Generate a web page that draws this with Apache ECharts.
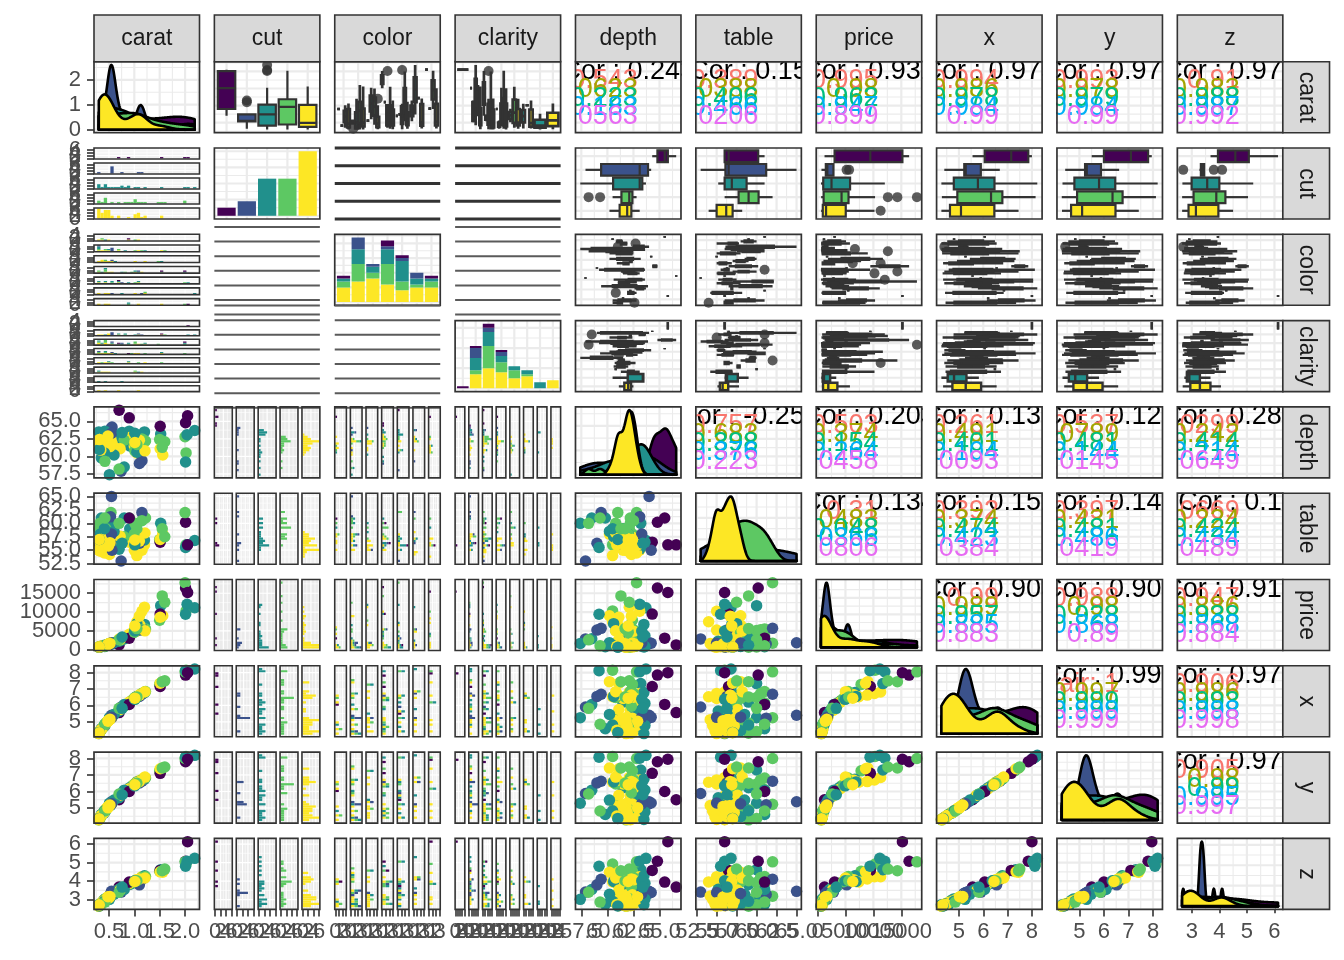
<!DOCTYPE html>
<html lang="en">
<head>
<meta charset="UTF-8">
<title>diamonds pairs</title>
<script src="https://cdn.jsdelivr.net/npm/echarts@6/dist/echarts.min.js"></script>
<style>
  html, body { margin: 0; background: #fff; }
  #chart { width: 1344px; height: 960px; }
</style>
</head>
<body>
<div id="chart"></div>
<script>
// levels and variable names
var cutLevels = ['Fair', 'Good', 'Very Good', 'Premium', 'Ideal'];
var colorLevels = ['D', 'E', 'F', 'G', 'H', 'I', 'J'];
var clarityLevels = ['I1', 'SI2', 'SI1', 'VS2', 'VS1', 'VVS2', 'VVS1', 'IF'];
var varNames = ['carat', 'cut', 'color', 'clarity', 'depth', 'table', 'price', 'x', 'y', 'z'];

// the sample, one array per column (rows grouped Fair, Good, Very Good, Premium, Ideal)
var carat = [0.70, 0.90, 1.51, 2.01, 2.05,
  0.32, 0.53, 0.54, 0.55, 0.56, 0.55, 0.74, 1.10, 1.15,
  0.30, 0.31, 0.33, 0.35, 0.40, 0.41, 0.42, 0.51, 0.53, 0.60, 0.70, 0.74, 0.76, 0.80, 0.90, 0.91, 1.01, 1.05, 1.20, 1.52, 2.01, 2.04, 2.19,
  0.30, 0.32, 0.35, 0.40, 0.42, 0.44, 0.45, 0.54, 0.70, 0.80, 0.90, 0.96, 1.00, 1.01, 1.02, 1.05, 1.15, 1.22, 1.50, 1.55, 1.60, 2.00, 2.02,
  0.30, 0.30, 0.31, 0.31, 0.32, 0.33, 0.33, 0.34, 0.35, 0.36, 0.38, 0.40, 0.41, 0.42, 0.43, 0.45, 0.46, 0.47, 0.48, 0.49,
  0.50, 0.51, 0.52, 0.54, 0.56, 0.70, 0.72, 0.90, 1.00, 1.01, 1.04, 1.05, 1.06, 1.10, 1.11, 1.15, 1.20, 1.21, 1.51, 1.56];
var cut = ['Fair', 'Fair', 'Fair', 'Fair', 'Fair',
  'Good', 'Good', 'Good', 'Good', 'Good', 'Good', 'Good', 'Good', 'Good',
  'Very Good', 'Very Good', 'Very Good', 'Very Good', 'Very Good', 'Very Good', 'Very Good', 'Very Good', 'Very Good', 'Very Good', 'Very Good', 'Very Good',
  'Very Good', 'Very Good', 'Very Good', 'Very Good', 'Very Good', 'Very Good', 'Very Good', 'Very Good', 'Very Good', 'Very Good', 'Very Good',
  'Premium', 'Premium', 'Premium', 'Premium', 'Premium', 'Premium', 'Premium', 'Premium', 'Premium', 'Premium', 'Premium', 'Premium',
  'Premium', 'Premium', 'Premium', 'Premium', 'Premium', 'Premium', 'Premium', 'Premium', 'Premium', 'Premium', 'Premium',
  'Ideal', 'Ideal', 'Ideal', 'Ideal', 'Ideal', 'Ideal', 'Ideal', 'Ideal', 'Ideal', 'Ideal', 'Ideal', 'Ideal', 'Ideal', 'Ideal', 'Ideal', 'Ideal', 'Ideal', 'Ideal', 'Ideal', 'Ideal',
  'Ideal', 'Ideal', 'Ideal', 'Ideal', 'Ideal', 'Ideal', 'Ideal', 'Ideal', 'Ideal', 'Ideal', 'Ideal', 'Ideal', 'Ideal', 'Ideal', 'Ideal', 'Ideal', 'Ideal', 'Ideal', 'Ideal', 'Ideal'];
var color = ['H', 'D', 'G', 'G', 'J',
  'E', 'E', 'I', 'E', 'F', 'E', 'H', 'G', 'I',
  'E', 'H', 'E', 'G', 'H', 'D', 'G', 'E', 'H', 'F', 'H', 'I', 'G', 'E', 'H', 'J', 'G', 'H', 'E', 'F', 'G', 'H', 'I',
  'E', 'G', 'D', 'G', 'E', 'F', 'G', 'H', 'E', 'G', 'J', 'G', 'E', 'D', 'H', 'G', 'E', 'I', 'F', 'G', 'E', 'H', 'J',
  'D', 'E', 'F', 'G', 'H', 'I', 'J', 'F', 'E', 'D', 'F', 'G', 'I', 'J', 'E', 'F', 'H', 'D', 'G', 'F',
  'E', 'I', 'J', 'G', 'F', 'H', 'E', 'D', 'G', 'F', 'I', 'J', 'D', 'E', 'H', 'G', 'F', 'I', 'J', 'E'];
var clarity = ['SI1', 'VS2', 'SI2', 'SI1', 'I1',
  'VS2', 'SI2', 'SI1', 'SI2', 'VS2', 'SI2', 'SI1', 'SI2', 'SI2',
  'VVS1', 'SI1', 'VVS2', 'SI1', 'VS2', 'VVS1', 'SI2', 'VS1', 'SI1', 'VS2', 'SI2', 'SI1', 'VVS1', 'SI2', 'SI1', 'VS1', 'SI2', 'VVS2', 'SI1', 'VS2', 'SI1', 'SI2', 'SI2',
  'SI1', 'VS2', 'VS1', 'SI1', 'VS2', 'SI1', 'SI1', 'VS1', 'SI1', 'SI2', 'SI1', 'VS2', 'SI1', 'VVS2', 'SI1', 'VS1', 'SI1', 'VS2', 'SI1', 'VS1', 'SI2', 'SI1', 'VS2',
  'SI1', 'VS2', 'IF', 'SI2', 'VS1', 'SI1', 'VVS2', 'SI1', 'VS2', 'VVS2', 'SI2', 'VS2', 'SI1', 'VS1', 'IF', 'SI1', 'VVS2', 'SI2', 'VS2', 'SI1',
  'VS1', 'VVS2', 'SI2', 'SI1', 'VS2', 'IF', 'SI2', 'VS1', 'SI1', 'VVS2', 'VS2', 'SI1', 'IF', 'VS2', 'SI2', 'VVS2', 'VS1', 'SI1', 'VS2', 'SI2'];
var depth = [66.6, 65.5, 64.3, 64.8, 65.8,
  61.0, 63.1, 63.9, 63.3, 64.2, 64.0, 57.9, 59.0, 59.4,
  63.5, 61.0, 62.0, 59.8, 63.3, 60.5, 63.6, 57.4, 63.2, 60.2, 63.1, 62.6, 63.4, 58.5, 63.6, 61.5, 63.3, 60.6, 63.5, 63.2, 59.2, 63.1, 63.7,
  61.8, 62.2, 61.5, 62.7, 59.3, 62.1, 62.4, 61.0, 58.2, 62.3, 62.8, 61.4, 62.0, 60.8, 62.6, 61.7, 62.5, 62.2, 62.4, 61.3, 62.1, 62.8, 60.5,
  61.8, 62.2, 61.1, 62.4, 61.6, 62.0, 62.6, 60.9, 62.3, 61.3, 62.1, 61.9, 62.8, 61.0, 62.5, 61.7, 62.0, 61.2, 62.9, 61.8,
  60.7, 62.3, 61.4, 62.4, 61.9, 62.2, 61.1, 62.7, 61.5, 62.0, 62.5, 60.5, 61.8, 62.3, 61.0, 63.1, 62.1, 60.8, 61.1, 60.2];
var table = [56.0, 61.0, 56.5, 60.2, 56.0,
  56.1, 61.2, 56.5, 58.0, 55.0, 65.0, 53.0, 56.3, 62.0,
  56.0, 57.0, 58.0, 61.0, 55.8, 59.0, 56.5, 60.0, 56.0, 58.5, 55.2, 57.0, 56.3, 61.0, 56.7, 59.0, 56.0, 57.5, 56.9, 60.0, 55.5, 56.0, 56.8,
  59.0, 60.0, 58.0, 57.0, 61.0, 59.0, 58.0, 62.0, 60.0, 57.5, 61.0, 59.0, 58.0, 60.0, 57.0, 59.0, 60.5, 61.0, 57.0, 59.0, 57.5, 62.0, 56.0,
  55.0, 56.0, 55.5, 57.0, 56.5, 54.8, 57.0, 56.0, 55.0, 56.6, 55.0, 57.2, 54.5, 56.0, 55.1, 56.8, 55.0, 57.5, 56.0, 55.8,
  57.0, 54.2, 56.4, 57.4, 55.0, 56.0, 57.6, 56.5, 55.0, 56.9, 57.0, 54.0, 57.8, 56.7, 58.0, 55.0, 56.0, 58.2, 57.0, 58.0];
var price = [1250, 3050, 9450, 16400, 15200,
  700, 1480, 1420, 1750, 1700, 1820, 2850, 5200, 5650,
  680, 620, 850, 760, 880, 1150, 820, 1650, 1450, 1850, 2250, 2500, 3350, 2900, 3700, 3900, 4950, 6900, 6700, 11700, 9400, 12050, 11150,
  640, 720, 890, 900, 1000, 1050, 1120, 1700, 2600, 2850, 3650, 4300, 4650, 5100, 4850, 5600, 5300, 5500, 7800, 14300, 12600, 17800, 10300,
  650, 720, 780, 700, 750, 700, 820, 900, 850, 880, 950, 1000, 1050, 1100, 1050, 1250, 1300, 1350, 1400, 1500,
  1550, 1600, 1650, 1750, 1850, 2800, 2650, 4100, 5200, 6300, 4900, 7400, 5800, 8900, 6500, 10200, 11300, 5000, 8600, 9000];
var dimX = [5.56, 6.06, 7.15, 7.85, 8.00,
  4.40, 5.22, 5.20, 5.28, 5.27, 5.40, 5.90, 6.55, 6.68,
  4.28, 4.35, 4.45, 4.58, 4.70, 4.80, 4.78, 5.25, 5.18, 5.45, 5.66, 5.78, 5.82, 6.05, 6.12, 6.20, 6.37, 6.55, 6.78, 7.33, 8.12, 8.05, 8.22,
  4.30, 4.40, 4.52, 4.70, 4.85, 4.92, 4.95, 5.25, 5.82, 5.95, 6.15, 6.32, 6.42, 6.48, 6.40, 6.52, 6.72, 6.85, 7.28, 7.45, 7.50, 8.05, 8.15,
  4.28, 4.31, 4.35, 4.33, 4.40, 4.43, 4.45, 4.48, 4.53, 4.58, 4.65, 4.74, 4.78, 4.82, 4.86, 4.93, 4.97, 5.00, 5.03, 5.07,
  5.10, 5.13, 5.16, 5.22, 5.28, 5.70, 5.75, 6.20, 6.42, 6.44, 6.50, 6.53, 6.55, 6.63, 6.65, 6.73, 6.82, 6.84, 7.35, 7.45];
var dimY = [5.50, 6.00, 7.10, 7.80, 7.95,
  4.42, 5.19, 5.23, 5.25, 5.30, 5.38, 5.88, 6.52, 6.62,
  4.31, 4.37, 4.47, 4.61, 4.68, 4.83, 4.76, 5.29, 5.16, 5.48, 5.62, 5.81, 5.80, 6.08, 6.09, 6.23, 6.34, 6.58, 6.74, 7.30, 8.08, 8.02, 8.19,
  4.28, 4.37, 4.55, 4.73, 4.82, 4.89, 4.92, 5.22, 5.85, 5.92, 6.12, 6.35, 6.38, 6.45, 6.43, 6.50, 6.70, 6.82, 7.25, 7.42, 7.48, 8.00, 8.12,
  4.31, 4.29, 4.38, 4.35, 4.42, 4.46, 4.43, 4.51, 4.55, 4.60, 4.68, 4.72, 4.80, 4.85, 4.88, 4.96, 4.99, 5.03, 5.01, 5.09,
  5.13, 5.15, 5.18, 5.24, 5.30, 5.73, 5.77, 6.17, 6.45, 6.41, 6.53, 6.56, 6.58, 6.60, 6.68, 6.70, 6.85, 6.87, 7.38, 7.42];
var dimZ = [3.68, 3.95, 4.58, 5.07, 6.13,
  2.69, 3.28, 3.33, 3.33, 3.39, 3.45, 3.41, 3.80, 4.10,
  2.73, 2.66, 2.77, 2.75, 2.97, 2.91, 3.03, 3.02, 3.27, 3.29, 3.56, 3.63, 3.68, 3.55, 3.88, 3.82, 4.02, 3.98, 4.29, 4.62, 4.80, 5.07, 5.23,
  2.65, 2.73, 2.79, 2.96, 2.87, 3.05, 3.08, 3.19, 3.40, 3.70, 3.85, 3.89, 3.97, 3.93, 4.02, 4.02, 4.19, 4.25, 4.53, 4.56, 4.65, 5.04, 4.92,
  2.65, 2.67, 2.67, 2.71, 2.72, 2.76, 2.78, 2.74, 2.83, 2.81, 2.90, 2.93, 3.01, 2.95, 3.04, 3.05, 3.09, 3.07, 3.16, 3.14,
  3.10, 3.20, 3.17, 3.26, 3.27, 3.55, 3.52, 3.88, 3.96, 3.98, 4.07, 3.96, 4.06, 4.12, 4.07, 4.24, 4.24, 4.17, 4.50, 4.48];

// tick breaks of the continuous variables
var caratBreaks = [0.5, 1, 1.5, 2];
var depthBreaks = [57.5, 60, 62.5, 65];
var tableBreaks = [52.5, 55, 57.5, 60, 62.5, 65];
var priceBreaks = [0, 5000, 10000, 15000];
var xBreaks = [5, 6, 7, 8];
var yBreaks = [5, 6, 7, 8];
var zBreaks = [3, 4, 5, 6];

// correlation labels as printed, pair order:
// carat-depth, carat-table, carat-price, carat-x, carat-y, carat-z, depth-table, depth-price, depth-x, depth-y, depth-z,
// table-price, table-x, table-y, table-z, price-x, price-y, price-z, x-y, x-z, y-z
var corrAll = ['0.243', '0.15', '0.931', '0.975', '0.974', '0.971', '-0.257', '0.203', '0.131', '0.124', '0.283',
  '0.134', '0.152', '0.146', '0.1', '0.903', '0.905', '0.914', '0.998', '0.974', '0.973'];
var corrFair = ['0.543', '0.389', '0.995', '0.994', '0.993', '0.91', '-0.757', '-0.503', '-0.261', '-0.537', '0.0299',
  '0.31', '0.392', '0.397', '0.0669', '0.99', '0.988', '0.947', '1', '0.906', '0.905'];
var corrGood = ['0.0623', '0.0388', '0.98', '0.986', '0.978', '0.983', '-0.683', '0.374', '0.491', '0.0789', '0.242',
  '-0.0483', '-0.374', '-0.431', '-0.224', '0.989', '0.98', '0.886', '0.997', '0.986', '0.98'];
var corrVeryGood = ['0.223', '0.406', '0.962', '0.978', '0.979', '0.988', '-0.398', '0.154', '0.401', '0.481', '0.414',
  '0.048', '0.474', '0.481', '0.424', '0.957', '0.928', '0.938', '0.999', '0.993', '0.99'];
var corrPremium = ['0.183', '0.466', '0.947', '0.984', '0.984', '0.987', '-0.376', '0.264', '0.104', '0.144', '0.214',
  '0.0366', '0.423', '0.486', '0.434', '0.885', '0.868', '0.868', '0.999', '0.998', '0.995'];
var corrIdeal = ['0.0563', '0.0206', '0.899', '0.99', '0.99', '0.992', '-0.223', '0.0458', '-0.0093', '0.0145', '0.0649',
  '0.0806', '0.0384', '0.0419', '0.0489', '0.883', '0.89', '0.884', '0.999', '0.998', '0.997'];

var cutFill = ['#440154', '#3B528B', '#21908C', '#5DC863', '#FDE725'];
var cutText = ['#F8766D', '#A3A500', '#00BF7D', '#00B0F6', '#E76BF3'];
var FONT = '"Liberation Sans", Arial, sans-serif';

var N = carat.length;
var cutIdx = cut.map(function (c) { return cutLevels.indexOf(c); });
var contVals = { carat: carat, depth: depth, table: table, price: price, x: dimX, y: dimY, z: dimZ };
var contBreaks = { carat: caratBreaks, depth: depthBreaks, table: tableBreaks, price: priceBreaks, x: xBreaks, y: yBreaks, z: zBreaks };
var contDec = { carat: 1, depth: 1, table: 1, price: 0, x: 0, y: 0, z: 0 };
var levels = { cut: cutLevels, color: colorLevels, clarity: clarityLevels };
var discIdx = {
  cut: cutIdx,
  color: color.map(function (c) { return colorLevels.indexOf(c); }),
  clarity: clarity.map(function (c) { return clarityLevels.indexOf(c); })
};
function isDisc(v) { return !!levels[v]; }
// draw order of the points (interleaves the cut groups)
var order = [];
for (var k0 = 0; k0 < N; k0++) order.push((k0 * 37) % N);

// panel layout
var L0 = 94, T0 = 61.7, DX = 120.37, DY = 86.3, PW = 105.5, PH = 71;
function panelRect(i, j) { return { x: L0 + j * DX, y: T0 + i * DY, w: PW, h: PH }; }

var option = { animation: false, backgroundColor: '#ffffff', grid: [], xAxis: [], yAxis: [], series: [], graphic: { elements: [] } };
var gfx = option.graphic.elements;

function quantile(s, p) {
  var h = (s.length - 1) * p, lo = Math.floor(h);
  var hi = Math.min(lo + 1, s.length - 1);
  return s[lo] + (h - lo) * (s[hi] - s[lo]);
}
function nrd0(v) {
  var s = v.slice().sort(function (a, b) { return a - b; }), n = s.length;
  var mean = s.reduce(function (a, b) { return a + b; }, 0) / n;
  var sd = Math.sqrt(s.reduce(function (a, b) { return a + (b - mean) * (b - mean); }, 0) / (n - 1));
  var lo = Math.min(sd, (quantile(s, 0.75) - quantile(s, 0.25)) / 1.34);
  if (!(lo > 0)) lo = sd || Math.abs(s[0]) || 1;
  return 0.9 * lo * Math.pow(n, -0.2);
}
function fmtDec(d) { return function (v) { return Number(v).toFixed(d); }; }
function fmtNum(v) { return String(+Number(v).toPrecision(6)); }

function contInfo(name) {
  var vals = contVals[name];
  var lo = Math.min.apply(null, vals), hi = Math.max.apply(null, vals), r = hi - lo;
  var min = lo - 0.05 * r, max = hi + 0.05 * r;
  var br = contBreaks[name], step = br[1] - br[0];
  var majors = br.filter(function (b) { return b >= min && b <= max; });
  var minors = [];
  for (var m = br[0] - step / 2; m <= br[br.length - 1] + step / 2 + 1e-9; m += step) {
    if (m >= min && m <= max) minors.push(m);
  }
  return { vals: vals, lo: lo, hi: hi, min: min, max: max, majors: majors, minors: minors, fmt: fmtDec(contDec[name]) };
}
function countInfo(M) {
  var min = -0.05 * M, max = 1.05 * M;
  var p = Math.pow(10, Math.floor(Math.log10(M)) - 1), step = p;
  var mult = [1, 2, 5, 10, 20, 50, 100];
  for (var q = 0; q < mult.length; q++) {
    step = mult[q] * p;
    if (Math.floor(M / step + 1e-9) + 1 <= 5) break;
  }
  var majors = [], minors = [];
  for (var v = 0; v <= M + 1e-9; v += step) majors.push(+v.toPrecision(8));
  for (var w = -step / 2; w <= max; w += step) if (w >= min) minors.push(w);
  return { min: min, max: max, majors: majors, minors: minors, fmt: fmtNum };
}
function discInfo(n) {
  var majors = [];
  for (var k = 1; k <= n; k++) majors.push(k);
  return { min: 0.4, max: n + 0.6, majors: majors, minors: [], fmt: fmtNum };
}

function axisOf(info, pos, withTicks) {
  var ax = {
    type: 'value', min: info.min, max: info.max, position: pos, silent: true,
    axisLine: { show: false }, splitLine: { show: false }, minorSplitLine: { show: false },
    axisTick: { show: false }, axisLabel: { show: false }
  };
  if (withTicks) {
    var vals = info.majors.filter(function (v) { return v >= info.min && v <= info.max; });
    ax.axisTick = { show: true, customValues: vals, length: 7, lineStyle: { color: '#333333', width: 1.6 } };
  }
  return ax;
}

// tick labels placed through the axis scale, all of them kept even when they collide
function addTickLabels(gi, info, other, side) {
  var vals = info.majors.filter(function (v) { return v >= info.min && v <= info.max; });
  option.series.push({
    type: 'custom', xAxisIndex: gi, yAxisIndex: gi, silent: true, z: 5, clip: false,
    data: vals.map(function (v) { return side === 'left' ? [other.min, v] : [v, other.min]; }),
    renderItem: function (params, api) {
      var p = api.coord([api.value(0), api.value(1)]), cs = params.coordSys, v = vals[params.dataIndex];
      var left = side === 'left';
      return { type: 'text', x: left ? cs.x - 13 : p[0], y: left ? p[1] : cs.y + cs.height + 12,
        style: { text: info.fmt(v), fill: '#4d4d4d', fontSize: 22, fontFamily: FONT,
          align: left ? 'right' : 'center', verticalAlign: left ? 'middle' : 'top' } };
    }
  });
}

function addGridLines(gi, xi, yi, col, wMaj, wMin) {
  var data = [];
  xi.minors.forEach(function (v) { data.push([v, yi.min, 1]); });
  yi.minors.forEach(function (v) { data.push([xi.min, v, 3]); });
  xi.majors.forEach(function (v) { data.push([v, yi.min, 0]); });
  yi.majors.forEach(function (v) { data.push([xi.min, v, 2]); });
  option.series.push({
    type: 'custom', xAxisIndex: gi, yAxisIndex: gi, silent: true, z: 1, clip: true, data: data,
    renderItem: function (params, api) {
      var t = api.value(2), p = api.coord([api.value(0), api.value(1)]), cs = params.coordSys;
      var lw = (t === 0 || t === 2) ? wMaj : wMin;
      var shape = t < 2 ? { x1: p[0], y1: cs.y, x2: p[0], y2: cs.y + cs.height }
                        : { x1: cs.x, y1: p[1], x2: cs.x + cs.width, y2: p[1] };
      return { type: 'line', shape: shape, style: { stroke: col, lineWidth: lw } };
    }
  });
}

// one grid with its axes, background, grid lines and frame
function makePanel(R, xi, yi, o) {
  o = o || {};
  var gi = option.grid.length;
  option.grid.push({ left: R.x, top: R.y, width: R.w, height: R.h, containLabel: false, outerBoundsMode: 'none' });
  var xa = axisOf(xi, 'bottom', o.xLab), ya = axisOf(yi, 'left', o.yLab);
  xa.gridIndex = gi; ya.gridIndex = gi;
  option.xAxis.push(xa); option.yAxis.push(ya);
  if (o.bg) gfx.push({ type: 'rect', silent: true, z: 0, shape: { x: R.x, y: R.y, width: R.w, height: R.h }, style: { fill: o.bg } });
  addGridLines(gi, xi, yi, o.lineColor || '#ebebeb', o.wMaj || 2.2, o.wMin || 1.1);
  if (o.xLab) addTickLabels(gi, xi, yi, 'bottom');
  if (o.yLab) addTickLabels(gi, yi, xi, 'left');
  gfx.push({ type: 'rect', silent: true, z: 100, shape: { x: R.x, y: R.y, width: R.w, height: R.h },
    style: { fill: 'none', stroke: '#333333', lineWidth: o.bw || 1.7 } });
  return gi;
}

function addRects(gi, rects) {
  option.series.push({
    type: 'custom', xAxisIndex: gi, yAxisIndex: gi, silent: true, z: 3, clip: true,
    data: rects.map(function (r) { return [r[0], r[1], r[2], r[3]]; }),
    renderItem: function (params, api) {
      var a = api.coord([api.value(0), api.value(2)]), b = api.coord([api.value(1), api.value(3)]);
      return { type: 'rect', shape: { x: Math.min(a[0], b[0]), y: Math.min(a[1], b[1]), width: Math.abs(b[0] - a[0]), height: Math.abs(b[1] - a[1]) },
        style: { fill: rects[params.dataIndex][4] } };
    }
  });
}

function addPolys(gi, polys) {
  option.series.push({
    type: 'custom', xAxisIndex: gi, yAxisIndex: gi, silent: true, z: 3, clip: true,
    data: polys.map(function (p) { return p.pts[1]; }),
    renderItem: function (params, api) {
      var p = polys[params.dataIndex];
      return { type: 'polygon', shape: { points: p.pts.map(function (q) { return api.coord(q); }) },
        style: { fill: p.fill, stroke: '#000000', lineWidth: 2.6, lineJoin: 'round' } };
    }
  });
}

function addTexts(gi, items) {
  option.series.push({
    type: 'custom', xAxisIndex: gi, yAxisIndex: gi, silent: true, z: 3, clip: true,
    data: items.map(function (t) { return [t.x, t.y]; }),
    renderItem: function (params, api) {
      var t = items[params.dataIndex], p = api.coord([api.value(0), api.value(1)]);
      return { type: 'text', x: p[0], y: p[1],
        style: { text: t.text, fill: t.color, fontSize: 27, fontFamily: FONT, align: t.align, verticalAlign: 'middle' } };
    }
  });
}

function boxStats(vals) {
  var s = vals.slice().sort(function (a, b) { return a - b; });
  var q1 = quantile(s, 0.25), med = quantile(s, 0.5), q3 = quantile(s, 0.75), iqr = q3 - q1;
  var lf = q1 - 1.5 * iqr, uf = q3 + 1.5 * iqr;
  var inside = s.filter(function (v) { return v >= lf && v <= uf; });
  return { lo: inside[0], hi: inside[inside.length - 1], q1: q1, med: med, q3: q3,
    out: s.filter(function (v) { return v < lf || v > uf; }) };
}

// boxes per level of a factor, dodged by cut
function buildBoxes(codes, vals, n, horiz) {
  var boxes = [], outs = [];
  for (var k = 0; k < n; k++) {
    var base = horiz ? n - k : k + 1;
    var present = [];
    for (var c = 0; c < 5; c++) {
      var v = vals.filter(function (_, r) { return codes[r] === k && cutIdx[r] === c; });
      if (v.length) present.push({ c: c, v: v });
    }
    var m = present.length, slot = 0.9 / Math.max(m, 1);
    present.forEach(function (g, idx) {
      var pos = horiz ? base + 0.45 - slot * (idx + 0.5) : base - 0.45 + slot * (idx + 0.5);
      var hw = m === 1 ? 0.43 : slot * 0.42;
      var st = boxStats(g.v);
      boxes.push({ pos: pos, hw: hw, st: st, fill: cutFill[g.c] });
      st.out.forEach(function (o) { outs.push(horiz ? [o, pos] : [pos, o]); });
    });
  }
  return { boxes: boxes, outs: outs };
}

function addBoxes(gi, res, horiz, lw) {
  var boxes = res.boxes;
  option.series.push({
    type: 'custom', xAxisIndex: gi, yAxisIndex: gi, silent: true, z: 3, clip: true,
    data: boxes.map(function (b) { return horiz ? [b.st.med, b.pos] : [b.pos, b.st.med]; }),
    renderItem: function (params, api) {
      var b = boxes[params.dataIndex], st = b.st;
      function P(c, v) { return horiz ? api.coord([v, c]) : api.coord([c, v]); }
      var s = { stroke: '#333333', lineWidth: lw };
      var w1 = P(b.pos, st.lo), w2 = P(b.pos, st.q1), w3 = P(b.pos, st.q3), w4 = P(b.pos, st.hi);
      var a = P(b.pos - b.hw, st.q1), c = P(b.pos + b.hw, st.q3);
      var m1 = P(b.pos - b.hw, st.med), m2 = P(b.pos + b.hw, st.med);
      return { type: 'group', children: [
        { type: 'line', shape: { x1: w1[0], y1: w1[1], x2: w2[0], y2: w2[1] }, style: s },
        { type: 'line', shape: { x1: w3[0], y1: w3[1], x2: w4[0], y2: w4[1] }, style: s },
        { type: 'rect', shape: { x: Math.min(a[0], c[0]), y: Math.min(a[1], c[1]), width: Math.abs(c[0] - a[0]), height: Math.abs(c[1] - a[1]) },
          style: { fill: b.fill, stroke: '#333333', lineWidth: lw } },
        { type: 'line', shape: { x1: m1[0], y1: m1[1], x2: m2[0], y2: m2[1] }, style: s }
      ] };
    }
  });
  if (res.outs.length) {
    option.series.push({ type: 'scatter', xAxisIndex: gi, yAxisIndex: gi, silent: true, z: 4, clip: true,
      symbolSize: 10, itemStyle: { color: '#333333' }, data: res.outs });
  }
}

// ---------- panel kinds ----------
function diagDensity(i) {
  var ci = contInfo(varNames[i]), polys = [], dmax = 0;
  for (var c = 0; c < 5; c++) {
    var v = ci.vals.filter(function (_, r) { return cutIdx[r] === c; });
    var bw = nrd0(v), pts = [[ci.lo, 0]];
    for (var s = 0; s <= 200; s++) {
      var x = ci.lo + (ci.hi - ci.lo) * s / 200, d = 0;
      for (var q = 0; q < v.length; q++) { var u = (x - v[q]) / bw; d += Math.exp(-0.5 * u * u); }
      d /= v.length * bw * Math.sqrt(2 * Math.PI);
      pts.push([x, d]);
      if (d > dmax) dmax = d;
    }
    pts.push([ci.hi, 0]);
    polys.push({ pts: pts, fill: cutFill[c] });
  }
  var gi = makePanel(panelRect(i, i), ci, countInfo(dmax), { xLab: i === 9, yLab: i === 0 });
  addPolys(gi, polys);
}

function diagBars(i) {
  var name = varNames[i], n = levels[name].length, codes = discIdx[name];
  var cnt = levels[name].map(function () { return [0, 0, 0, 0, 0]; });
  codes.forEach(function (k, r) { cnt[k][cutIdx[r]]++; });
  var M = Math.max.apply(null, cnt.map(function (a) { return a.reduce(function (s, x) { return s + x; }, 0); }));
  var rects = [];
  cnt.forEach(function (a, k) {
    var acc = 0;
    for (var c = 4; c >= 0; c--) if (a[c]) { rects.push([k + 0.55, k + 1.45, acc, acc + a[c], cutFill[c]]); acc += a[c]; }
  });
  var gi = makePanel(panelRect(i, i), discInfo(n), countInfo(M), {});
  addRects(gi, rects);
}

function corrPanel(i, j, pIdx) {
  var xi = contInfo(varNames[j]), yi = contInfo(varNames[i]);
  var gi = makePanel(panelRect(i, j), xi, yi, {});
  var xr = xi.hi - xi.lo, yr = yi.hi - yi.lo;
  var groups = [corrFair, corrGood, corrVeryGood, corrPremium, corrIdeal];
  var items = [{ x: xi.lo + 0.5 * xr, y: yi.lo + 0.9 * yr, text: 'Cor : ' + corrAll[pIdx], color: '#000000', align: 'center' }];
  for (var c = 0; c < 5; c++) {
    items.push({ x: xi.lo + 0.6 * xr, y: yi.lo + (0.76 - 0.14 * c) * yr, text: cutLevels[c] + ': ' + groups[c][pIdx], color: cutText[c], align: 'right' });
  }
  addTexts(gi, items);
}

function scatterPanel(i, j) {
  var xi = contInfo(varNames[j]), yi = contInfo(varNames[i]);
  var gi = makePanel(panelRect(i, j), xi, yi, { xLab: i === 9, yLab: j === 0 });
  option.series.push({
    type: 'scatter', xAxisIndex: gi, yAxisIndex: gi, silent: true, z: 3, clip: true, symbolSize: 11.5,
    data: order.map(function (k) { return { value: [xi.vals[k], yi.vals[k]], itemStyle: { color: cutFill[cutIdx[k]], opacity: 1 } }; })
  });
}

function vertBox(i, j) {
  var yi = contInfo(varNames[i]), name = varNames[j], n = levels[name].length;
  var gi = makePanel(panelRect(i, j), discInfo(n), yi, {});
  addBoxes(gi, buildBoxes(discIdx[name], yi.vals, n, false), false, name === 'cut' ? 2.2 : 2.7);
}

function horizBox(i, j) {
  var xi = contInfo(varNames[j]), name = varNames[i], n = levels[name].length;
  var gi = makePanel(panelRect(i, j), xi, discInfo(n), {});
  addBoxes(gi, buildBoxes(discIdx[name], xi.vals, n, true), true, name === 'cut' ? 2.2 : 2.4);
}

function binCounts(vals, lo, w, codes, n) {
  var cnt = [];
  for (var f = 0; f < n; f++) { var row = []; for (var b = 0; b < 30; b++) row.push([0, 0, 0, 0, 0]); cnt.push(row); }
  vals.forEach(function (v, r) {
    var b = Math.min(29, Math.max(0, Math.round((v - lo) / w)));
    cnt[codes[r]][b][cutIdx[r]]++;
  });
  var M = 0;
  cnt.forEach(function (f) { f.forEach(function (b) { M = Math.max(M, b.reduce(function (s, x) { return s + x; }, 0)); }); });
  return { cnt: cnt, M: M };
}

var FACET_STYLE = { bg: '#ebebeb', lineColor: '#ffffff', wMaj: 1.2, wMin: 0.6, bw: 1.6 };

// row variable continuous, column variable a factor: side-by-side facets with horizontal histograms
function colFacetHist(i, j) {
  var yi = contInfo(varNames[i]), name = varNames[j], n = levels[name].length;
  var w = (yi.hi - yi.lo) / 29, bc = binCounts(yi.vals, yi.lo, w, discIdx[name], n);
  var xi = countInfo(bc.M), R = panelRect(i, j), g = 4, fw = (R.w - (n - 1) * g) / n;
  for (var f = 0; f < n; f++) {
    var FR = { x: R.x + f * (fw + g), y: R.y, w: fw, h: R.h };
    var gi = makePanel(FR, xi, yi, Object.assign({ xLab: i === 9 }, FACET_STYLE));
    var rects = [];
    bc.cnt[f].forEach(function (b, bi) {
      var acc = 0, y0 = yi.lo + (bi - 0.5) * w, y1 = y0 + w;
      for (var c = 4; c >= 0; c--) if (b[c]) { rects.push([acc, acc + b[c], y0, y1, cutFill[c]]); acc += b[c]; }
    });
    addRects(gi, rects);
  }
}

// row variable a factor, column carat: stacked facets with vertical histograms
function rowFacetHist(i, j) {
  var xi = contInfo(varNames[j]), name = varNames[i], n = levels[name].length;
  var w = (xi.hi - xi.lo) / 29, bc = binCounts(xi.vals, xi.lo, w, discIdx[name], n);
  var yi = countInfo(bc.M), R = panelRect(i, j), g = n === 8 ? 3.4 : 4, fh = (R.h - (n - 1) * g) / n;
  for (var f = 0; f < n; f++) {
    var FR = { x: R.x, y: R.y + f * (fh + g), w: R.w, h: fh };
    var gi = makePanel(FR, xi, yi, Object.assign({ yLab: j === 0 }, FACET_STYLE));
    var rects = [];
    bc.cnt[f].forEach(function (b, bi) {
      var acc = 0, x0 = xi.lo + (bi - 0.5) * w, x1 = x0 + w;
      for (var c = 4; c >= 0; c--) if (b[c]) { rects.push([x0, x1, acc, acc + b[c], cutFill[c]]); acc += b[c]; }
    });
    addRects(gi, rects);
  }
}

// factor against factor: the facets collapse to flat lines
function collapsedLines(i, j) {
  var R = panelRect(i, j), n = levels[varNames[i]].length;
  var off = n === 5 ? 0 : (n === 7 ? -7.3 : -15), sp = n === 5 ? R.h / 4 : 14.6;
  for (var k = 0; k < n; k++) {
    var y = R.y + off + k * sp;
    gfx.push({ type: 'line', silent: true, z: 100, shape: { x1: R.x, y1: y, x2: R.x + R.w, y2: y },
      style: { stroke: n === 5 ? '#333333' : '#5a5a5a', lineWidth: n === 5 ? 3.2 : 2.0 } });
  }
}

// ---------- build the matrix ----------
var pairIdx = 0;
for (var i = 0; i < 10; i++) {
  for (var j = 0; j < 10; j++) {
    var vi = varNames[i], vj = varNames[j];
    if (i === j) { if (isDisc(vi)) diagBars(i); else diagDensity(i); }
    else if (!isDisc(vi) && !isDisc(vj)) { if (j > i) corrPanel(i, j, pairIdx++); else scatterPanel(i, j); }
    else if (isDisc(vi) && isDisc(vj)) collapsedLines(i, j);
    else if (!isDisc(vi)) { if (j > i) vertBox(i, j); else colFacetHist(i, j); }
    else { if (j > i) horizBox(i, j); else rowFacetHist(i, j); }
  }
}

// strips
var stripH = T0 - 15, rightX = L0 + 9 * DX + PW;
varNames.forEach(function (nm, k) {
  var x = L0 + k * DX;
  gfx.push({ type: 'rect', silent: true, z: 100, shape: { x: x, y: 15, width: PW, height: stripH },
    style: { fill: '#d9d9d9', stroke: '#333333', lineWidth: 1.6 } });
  gfx.push({ type: 'text', silent: true, z: 101, x: x + PW / 2, y: 15 + stripH / 2,
    style: { text: nm, fill: '#1a1a1a', fontSize: 23, fontFamily: FONT, align: 'center', verticalAlign: 'middle' } });
  var y = T0 + k * DY;
  gfx.push({ type: 'rect', silent: true, z: 100, shape: { x: rightX, y: y, width: stripH, height: PH },
    style: { fill: '#d9d9d9', stroke: '#333333', lineWidth: 1.6 } });
  gfx.push({ type: 'text', silent: true, z: 101, x: rightX + stripH / 2, y: y + PH / 2, rotation: -Math.PI / 2,
    style: { text: nm, fill: '#1a1a1a', fontSize: 23, fontFamily: FONT, align: 'center', verticalAlign: 'middle' } });
});

var chart = echarts.init(document.getElementById('chart'));
chart.setOption(option);
</script>
</body>
</html>
